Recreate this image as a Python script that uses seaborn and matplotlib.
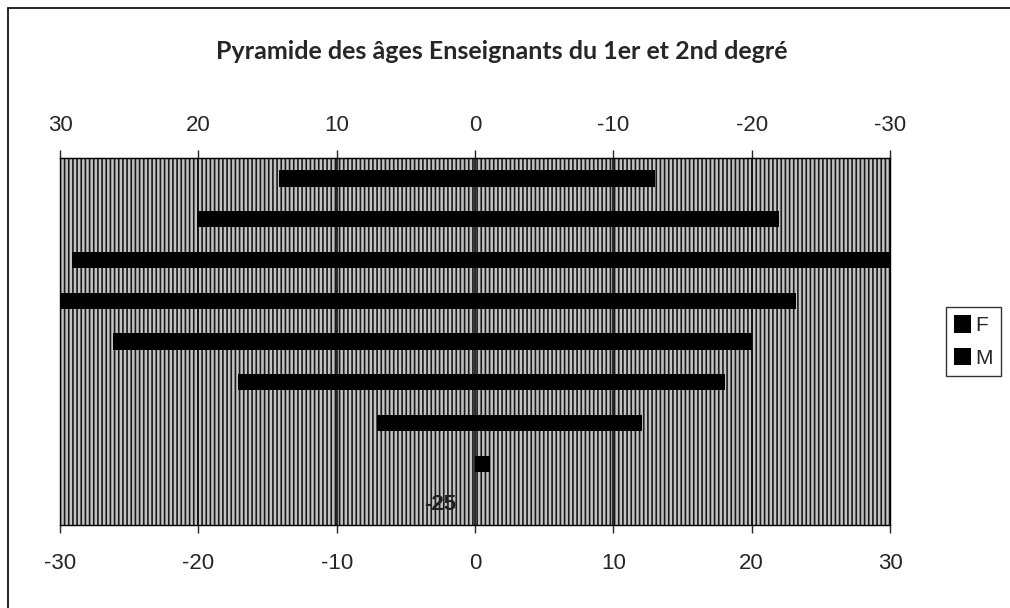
import pandas as pd
import seaborn as sns
import matplotlib.pyplot as plt
from matplotlib.patches import Rectangle
from matplotlib.lines import Line2D

# age groups, top to bottom
ages = ["60+", "55-59", "50-54", "45-49", "40-44", "35-39", "30-34", "25-29", "-25"]
femmes = [-14.2, -20.1, -29.1, -30.1, -26.2, -17.1, -7.1, 0.0, 0.0]
hommes = [13.0, 22.0, 30.2, 23.2, 20.0, 18.1, 12.1, 1.1, 0.0]
ticks = [-30, -20, -10, 0, 10, 20, 30]

df = pd.DataFrame({
    "age": ages * 2,
    "effectif": femmes + hommes,
    "sexe": ["F"] * len(ages) + ["M"] * len(ages),
})

sns.set_style("white")
plt.rcParams['font.family'] = ['Liberation Sans', 'DejaVu Sans']
plt.rcParams['hatch.linewidth'] = 1.2

fig = plt.figure(figsize=(10.1, 6.08), dpi=100)
ax = fig.add_axes([0.0594, 0.1365, 0.8218, 0.6035])

# hatched grey background like the scanned chart
ax.add_patch(Rectangle((0, 0), 1, 1, transform=ax.transAxes, facecolor='#c4c4c4',
                       edgecolor='#1a1a1a', hatch='||||', lw=0, zorder=0))

sns.barplot(data=df, x="effectif", y="age", hue="sexe", order=ages,
            palette={"F": "black", "M": "black"}, dodge=False, width=0.4,
            orient="h", saturation=1, linewidth=0, ax=ax, zorder=3)

ax.set_xlim(-30, 30)
ax.set_xticks(ticks)
ax.set_xticklabels([str(t) for t in ticks], fontsize=16)
ax.tick_params(axis='x', direction='out', length=6, width=1, pad=14, bottom=True)
ax.set_yticks([])
ax.set_xlabel("")
ax.set_ylabel("")
ax.grid(axis='x', color='#101010', lw=1.2)
for s in ax.spines.values():
    s.set_color('black')
    s.set_linewidth(1)

top = ax.secondary_xaxis('top', functions=(lambda x: -x, lambda x: -x))
top.set_xticks(ticks)
top.set_xticklabels([str(t) for t in ticks], fontsize=16)
top.tick_params(direction='out', length=6, width=1, pad=10)

ax.text(-2.5, 8, "-25", fontsize=16, fontweight='bold', ha='center', va='center',
        color='#202020', zorder=4, family='Liberation Sans')

ax.legend(title=None, fontsize=15, loc='center left', bbox_to_anchor=(1.055, 0.5),
          frameon=True, edgecolor='black', fancybox=False, handlelength=0.8,
          handleheight=0.9, handletextpad=0.2, labelspacing=0.6, borderpad=0.4)

fig.suptitle("Pyramide des âges Enseignants du 1er et 2nd degré", x=0.497, y=0.935,
             fontsize=18, fontweight='bold', family=['Lato', 'DejaVu Sans'])

# scanned frame: only the top and left edges show
fig.add_artist(Line2D([0.008, 1.0], [0.987, 0.987], transform=fig.transFigure,
                      color='black', lw=1.2))
fig.add_artist(Line2D([0.008, 0.008], [0.0, 0.987], transform=fig.transFigure,
                      color='black', lw=1.2))

fig.savefig("out.png", dpi=100)
